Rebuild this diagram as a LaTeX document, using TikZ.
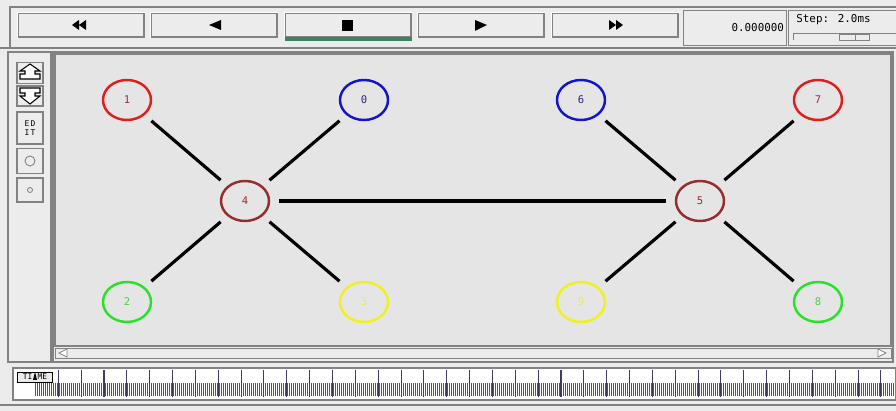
\documentclass[tikz,border=0pt]{standalone}
\usepackage{fontspec}
\newfontfamily\namfont{DejaVu Sans Mono}
\usetikzlibrary{shapes.geometric}
\definecolor{winbg}{RGB}{236,236,236}
\definecolor{canvasbg}{RGB}{229,229,229}
\definecolor{edgedark}{RGB}{130,130,130}
\definecolor{hatchcol}{RGB}{85,85,85}
\definecolor{stopbar}{RGB}{60,130,95}
\definecolor{tickcol}{RGB}{60,60,100}
\definecolor{nred}{RGB}{225,30,30}
\definecolor{nblue}{RGB}{20,20,205}
\definecolor{nbrown}{RGB}{150,45,45}
\definecolor{ngreen}{RGB}{40,225,40}
\definecolor{nyellow}{RGB}{240,240,30}
\definecolor{lred}{RGB}{160,40,60}
\definecolor{lblue}{RGB}{40,40,120}
\definecolor{lgreen}{RGB}{80,200,80}
\definecolor{lyellow}{RGB}{232,232,110}
\tikzset{namnode/.style={shape=ellipse,draw=#1,line width=1.4pt,minimum width=0.96cm,minimum height=0.8cm,inner sep=0pt,outer sep=0.2cm,font=\namfont\fontsize{6}{7}\selectfont}}
\tikzset{namlink/.style={draw=black,line width=1.8pt}}
\tikzset{tkbutton/.style={shape=rectangle,fill=winbg,draw=edgedark,line width=0.6pt,inner sep=0pt}}

\begin{document}
\begin{tikzpicture}[x=0.02cm,y=-0.02cm]
            \useasboundingbox (0,0) rectangle (896,411);
            \fill[winbg] (0,0) rectangle (896,411);
            % top control bar
            \draw[edgedark,line width=0.6pt] (10,48) -- (10,7) -- (896,7);
            \foreach \name/\x in {rew/81,back/214,stop/348,play/481,ffwd/615}
            {
                \node[tkbutton,minimum width=2.52cm,minimum height=0.48cm] (\name) at (\x,25) {};
                \draw[white,line width=0.8pt] (\name.south west) -- (\name.north west) -- (\name.north east);
            }
            \fill[stopbar] (285,37) rectangle (412,41);
            \fill (72,25) -- (79,20) -- (79,30) -- cycle (79,25) -- (86,20) -- (86,30) -- cycle;
            \fill (209,25) -- (221,20) -- (221,30) -- cycle;
            \fill (342,20) rectangle (353,31);
            \fill (487,25) -- (475,20) -- (475,31) -- cycle;
            \fill (616,25) -- (609,20) -- (609,30) -- cycle (623,25) -- (616,20) -- (616,30) -- cycle;
            \node[tkbutton,minimum width=2.06cm,minimum height=0.7cm,anchor=north west,font=\namfont\fontsize{6.2}{7}\selectfont,align=right,text width=1.96cm] (clock) at (683,10) {0.000000};
            \node[tkbutton,minimum width=2.16cm,minimum height=0.7cm,anchor=north west] (stepbox) at (788,10) {};
            \node[anchor=west,font=\namfont\fontsize{6.2}{7}\selectfont,inner sep=0pt] (steptxt) at (796,20) {Step: 2.0ms};
            \draw[edgedark,line width=0.5pt] (793,40) -- (793,33) -- (896,33);
            \draw[edgedark,line width=0.5pt,fill=winbg] (839,34) rectangle (869,40);
            \draw[edgedark,line width=0.5pt] (855,34) -- (855,40);
            % main frame
            \draw[edgedark,line width=0.6pt] (0,48) -- (896,48);
            \draw[edgedark,line width=0.6pt] (8,52) rectangle (51,362);
            \draw[edgedark,line width=0.6pt] (53,52) rectangle (893,362);
            \draw[edgedark,line width=0.6pt,fill=canvasbg] (55,54) rectangle (891,346);
            % left tool buttons
            \foreach \name/\y/\h in {zin/73/0.42,zout/96/0.4,edit/128/0.64,bigc/161/0.5,smallc/190/0.48}
            {
                \node[tkbutton,minimum width=0.52cm,minimum height=\h cm] (\name) at (30,\y) {};
            }
            \draw[fill=white,line width=0.6pt] (30,64) -- (40,71) -- (35,71) -- (35,74) -- (40,74) -- (40,79) -- (20,79) -- (20,74) -- (25,74) -- (25,71) -- (20,71) -- cycle;
            \draw[fill=white,line width=0.6pt] (20,88) -- (40,88) -- (40,93) -- (35,93) -- (35,96) -- (40,96) -- (30,104) -- (20,96) -- (25,96) -- (25,93) -- (20,93) -- cycle;
            \node[font=\namfont\fontsize{4.5}{5.5}\selectfont,align=center,inner sep=0pt] (edittxt) at (edit) {E\,D\\I\,T};
            \draw[edgedark,line width=0.5pt] (bigc) circle (5);
            \draw[edgedark,line width=0.5pt] (smallc) circle (2.5);
            % scroll bar
            \draw[edgedark,line width=0.5pt] (55,348) rectangle (891,358);
            \draw[edgedark,line width=0.5pt,fill=white] (67,349) -- (59,353) -- (67,357) -- cycle;
            \draw[edgedark,line width=0.5pt,fill=white] (878,349) -- (886,353) -- (878,357) -- cycle;
            % setup the nodes
            \foreach \n/\x/\y/\col/\tcol in {0/364/100/nblue/lblue,1/127/100/nred/lred,2/127/302/ngreen/lgreen,3/364/302/nyellow/lyellow,4/245/201/nbrown/nbrown,5/700/201/nbrown/nbrown,6/581/100/nblue/lblue,7/818/100/nred/lred,8/818/302/ngreen/lgreen,9/581/302/nyellow/lyellow}
            {
                \node[namnode=\col,text=\tcol] (n\n) at (\x,\y) {\n};
            }
            % links between nodes
            \foreach \a/\b in {1/4,0/4,2/4,3/4,6/5,7/5,9/5,8/5,4/5}
            {
                \draw[namlink] (n\a) -- (n\b);
            }
            % time line
            \draw[edgedark,line width=0.6pt,fill=white] (13,368) rectangle (896,400);
            \foreach \x in {35,37,...,893}
            {
                \draw[hatchcol,line width=0.45pt] (\x,383) -- (\x,396);
            }
            \foreach \i in {0,...,36}
            {
                \draw[tickcol,line width=0.6pt] (58.3+22.85*\i,370) -- (58.3+22.85*\i,397);
            }
            \node[draw=black,fill=winbg,line width=0.5pt,minimum width=0.7cm,minimum height=0.2cm,inner sep=0pt,font=\namfont\fontsize{4.5}{5}\selectfont] (timelbl) at (35,377) {TI\hspace{3pt}ME};
            \fill (35,372) -- (37,380) -- (33,380) -- cycle;
            \draw[edgedark,line width=0.6pt] (0,405) -- (896,405);
\end{tikzpicture}
\end{document}
